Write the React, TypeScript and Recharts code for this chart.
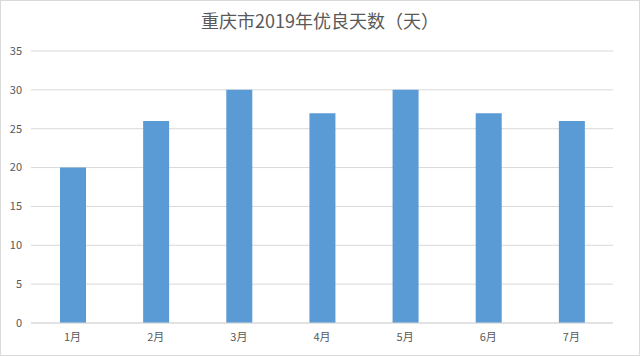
import { BarChart, Bar, XAxis, YAxis, CartesianGrid } from 'recharts';

const months = ['1月', '2月', '3月', '4月', '5月', '6月', '7月'];
const goodDays = [20, 26, 30, 27, 30, 27, 26];
const yTicks = [0, 5, 10, 15, 20, 25, 30, 35];

const data = months.map((m, i) => ({ month: m, days: goodDays[i] }));

const font = '"Noto Sans CJK SC", "Microsoft YaHei", sans-serif';

const App = () => {
  return (
    <div
      style={{
        position: 'absolute',
        left: 0,
        top: 0,
        width: 640,
        height: 356,
        border: '1px solid #d9d9d9',
        boxSizing: 'border-box',
        background: '#fff',
        fontFamily: font,
      }}
    >
      <div
        style={{
          position: 'absolute',
          top: 6,
          left: 0,
          width: '100%',
          textAlign: 'center',
          fontSize: 18,
          color: '#595959',
        }}
      >
        重庆市2019年优良天数（天）
      </div>
      <BarChart
        width={638}
        height={354}
        data={data}
        margin={{ top: 50, right: 26, bottom: 2, left: 0 }}
      >
        <CartesianGrid vertical={false} stroke="#d9d9d9" />
        <XAxis
          dataKey="month"
          axisLine={{ stroke: '#d9d9d9' }}
          tickLine={false}
          tickSize={0}
          tickMargin={10}
          height={30}
          tick={{ fontSize: 11, fill: '#595959', fontFamily: font }}
        />
        <YAxis
          domain={[0, 35]}
          ticks={yTicks}
          axisLine={false}
          tickLine={false}
          tickSize={0}
          tickMargin={9}
          width={30}
          tick={{ fontSize: 11, fill: '#595959', fontFamily: font }}
        />
        <Bar dataKey="days" fill="#5b9bd5" barSize={26} isAnimationActive={false} />
      </BarChart>
    </div>
  );
};

export default App;
